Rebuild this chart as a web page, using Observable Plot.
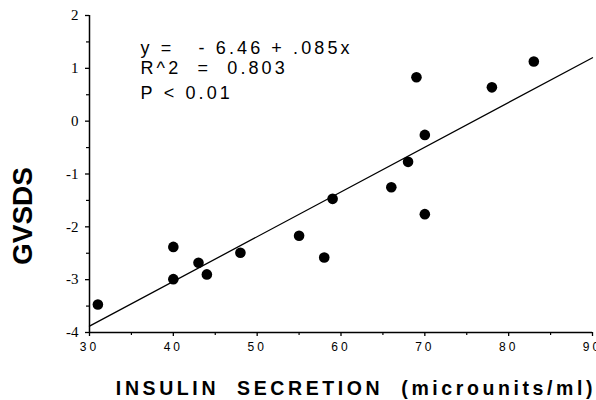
<!DOCTYPE html>
<html><head><meta charset="utf-8">
<script src="https://cdn.jsdelivr.net/npm/d3@7"></script>
<script src="https://cdn.jsdelivr.net/npm/@observablehq/plot@0.6"></script>
<style>
body{margin:0;background:#fff;}
#chart svg{overflow:hidden;display:block}
</style></head><body><div id="chart"></div>
<script>
// Data
const insulin = [31, 40, 40, 43, 44, 48, 55, 58, 59, 66, 68, 69, 70, 70, 78, 83];
const gvsds   = [-3.47, -2.38, -2.99, -2.68, -2.9, -2.49, -2.17, -2.58, -1.47, -1.25, -0.77, 0.83, -0.26, -1.76, 0.64, 1.13];
const fitX = [30, 90];
const fitY = [-3.88, 1.2];
const xTicks = [30, 40, 50, 60, 70, 80, 90];
const xMinor = [35, 45, 55, 65, 75, 85];
const yTicks = [-4, -3, -2, -1, 0, 1, 2];
const yMinor = [-3.5, -2.5, -1.5, -0.5, 0.5, 1.5];
const eqLines = ["y\u00a0=\u00a0\u00a0\u00a0-\u00a06.46\u00a0+\u00a0.085x", "R^2\u00a0\u00a0=\u00a0\u00a00.803", "P\u00a0<\u00a00.01"];
const xTitle = "INSULIN\u00a0\u00a0SECRETION\u00a0\u00a0(microunits/ml)";
const yTitle = "GVSDS";

const points = insulin.map((x, i) => ({x, y: gvsds[i]}));
const fit = fitX.map((x, i) => ({x, y: fitY[i]}));
const eqStyle = {frameAnchor: "top-left", dx: 51, textAnchor: "start", lineAnchor: "middle", fontSize: 18, fontFamily: "Liberation Sans", fill: "#000"};

const chart = Plot.plot({
  width: 596,
  height: 400,
  marginLeft: 89,
  marginRight: 4,
  marginTop: 15,
  marginBottom: 68,
  style: {background: "#fff", color: "#000"},
  x: {domain: [30, 90], axis: null},
  y: {domain: [-4, 2], axis: null},
  marks: [
    Plot.axisY(yTicks, {tickSize: 4, tickPadding: 7, fontSize: 15, fontFamily: "Liberation Serif", label: null, strokeWidth: 1.3, tickFormat: d => String(d)}),
    Plot.axisY(yMinor, {tickSize: 3, tickFormat: () => "", label: null, strokeWidth: 1.2}),
    Plot.axisX(xTicks, {tickSize: 4, tickPadding: 6, fontSize: 12, fontFamily: "Liberation Sans", label: null, strokeWidth: 1.3, tickFormat: d => String(d)}),
    Plot.axisX(xMinor, {tickSize: 3, tickFormat: () => "", label: null, strokeWidth: 1.2}),
    Plot.ruleX([30], {strokeWidth: 1.5}),
    Plot.ruleY([-4], {strokeWidth: 1.5}),
    Plot.line(fit, {x: "x", y: "y", stroke: "#000", strokeWidth: 1.3}),
    Plot.dot(points, {x: "x", y: "y", r: 5.3, fill: "#000"}),
    Plot.text([eqLines[0]], {...eqStyle, dy: 33}),
    Plot.text([eqLines[1]], {...eqStyle, dy: 53}),
    Plot.text([eqLines[2]], {...eqStyle, dy: 78}),
    Plot.text([xTitle], {frameAnchor: "bottom", textAnchor: "middle", lineAnchor: "middle", dx: 15, dy: 56, fontSize: 19.5, fontWeight: "bold", fontFamily: "Liberation Sans"}),
    Plot.text([yTitle], {frameAnchor: "left", textAnchor: "middle", lineAnchor: "middle", rotate: -90, dx: -66, dy: 42, fontSize: 28, fontWeight: "bold", fontFamily: "Liberation Sans"})
  ]
});
// letter spacing for the wide, typewriter-like lettering of the original
const xLabelSet = new Set(xTicks.map(String));
d3.select(chart).selectAll("text").each(function() {
  const t = this.textContent;
  if (xLabelSet.has(t)) this.style.letterSpacing = "3px";
  else if (eqLines.includes(t)) this.style.letterSpacing = "3.1px";
  else if (t === xTitle) this.style.letterSpacing = "3.6px";
});
document.getElementById("chart").append(chart);
</script></body></html>
